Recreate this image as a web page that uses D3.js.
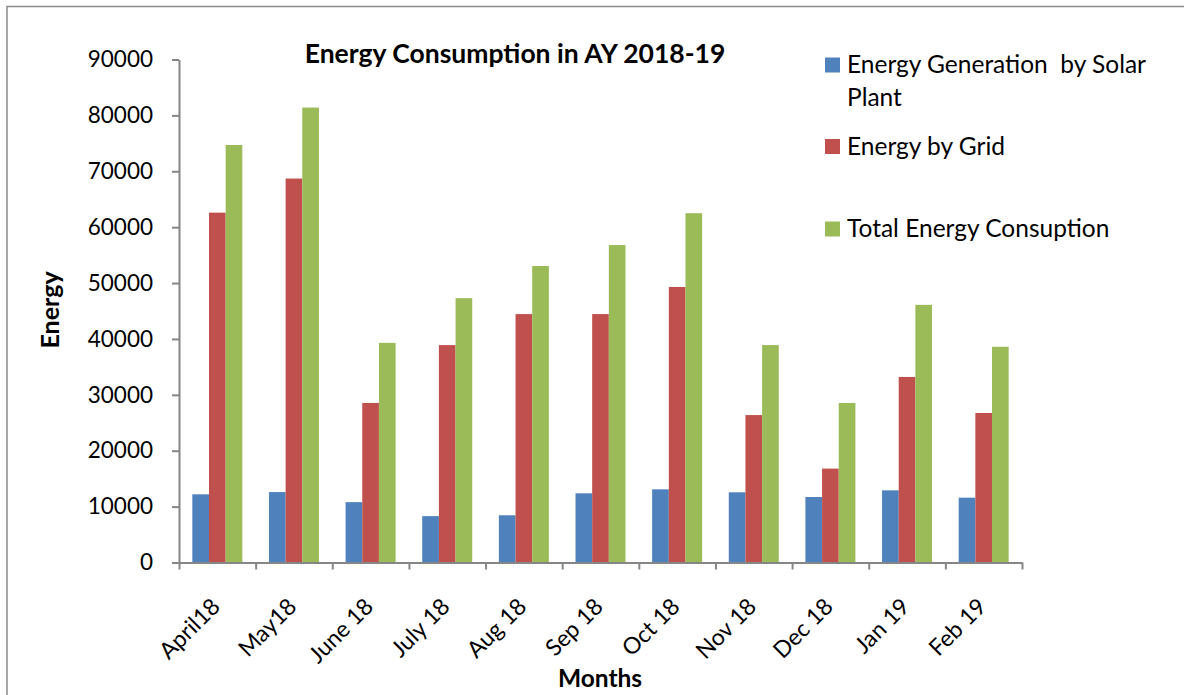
<!DOCTYPE html>
<html>
<head>
<meta charset="utf-8">
<script src="https://cdn.jsdelivr.net/npm/d3@7"></script>
<style>
  body { margin: 0; background: #fff; }
  text { font-family: Lato, "Open Sans", sans-serif; fill: #000; }
</style>
</head>
<body>
<div id="chart"></div>
<script>
// values
var months = ["April18", "May18", "June 18", "July 18", "Aug 18", "Sep 18", "Oct 18", "Nov 18", "Dec 18", "Jan 19", "Feb 19"];
var seriesNames = ["Energy Generation  by Solar Plant", "Energy by Grid", "Total Energy Consuption"];
var solar = [12200, 12600, 10800, 8300, 8450, 12380, 13090, 12560, 11720, 12910, 11600];
var grid = [62600, 68700, 28550, 38900, 44450, 44450, 49300, 26380, 16800, 33200, 26750];
var total = [74700, 81400, 39300, 47300, 53050, 56800, 62500, 38900, 28550, 46100, 38600];
var yTicks = [0, 10000, 20000, 30000, 40000, 50000, 60000, 70000, 80000, 90000];
var colors = ["#4F81BD", "#C0504D", "#9BBB59"];

var width = 1184,
    height = 695;

var svg = d3.select("#chart")
  .append("svg")
    .attr("width", width)
    .attr("height", height);

// chart frame (only top and left edges show in the picture)
svg.append("rect")
  .attr("x", 7)
  .attr("y", 6.5)
  .attr("width", 1300)
  .attr("height", 900)
  .attr("fill", "none")
  .attr("stroke", "#8c8c8c")
  .attr("stroke-width", 1.5);

var plotLeft = 179, plotRight = 1022, plotTop = 59.5, plotBottom = 562.5;

var x0 = d3.scaleBand()
  .domain(months)
  .range([plotLeft, plotRight]);

var x1 = d3.scaleBand()
  .domain(seriesNames)
  .range([0, x0.bandwidth()])
  .paddingInner(0)
  .paddingOuter(0.8);

var y = d3.scaleLinear()
  .domain([0, 90000])
  .range([plotBottom, plotTop]);

var table = months.map(function(m, i) {
  return { month: m, values: [solar[i], grid[i], total[i]] };
});

// bars
var groups = svg.selectAll("g.month")
  .data(table)
  .enter()
  .append("g")
    .attr("class", "month")
    .attr("transform", function(d) { return "translate(" + x0(d.month) + ",0)"; });

groups.selectAll("rect")
  .data(function(d) { return d.values.map(function(v, j) { return { key: seriesNames[j], value: v, idx: j }; }); })
  .enter()
  .append("rect")
    .attr("x", function(d) { return x1(d.key); })
    .attr("y", function(d) { return y(d.value); })
    .attr("width", x1.bandwidth())
    .attr("height", function(d) { return plotBottom - y(d.value); })
    .attr("fill", function(d) { return colors[d.idx]; });

// y axis
var yAxis = svg.append("g")
  .attr("transform", "translate(" + plotLeft + ",0)")
  .call(d3.axisLeft(y).tickValues(yTicks).tickFormat(d3.format("d")).tickSize(7).tickSizeOuter(0).tickPadding(19));

yAxis.selectAll("text")
  .style("font-size", "22.5px")
  .style("font-family", "Lato, sans-serif");

// x axis: tick marks on the category boundaries
var xEdges = d3.scaleLinear()
  .domain([0, months.length])
  .range([plotLeft, plotRight]);

var xAxis = svg.append("g")
  .attr("transform", "translate(0," + plotBottom + ")")
  .call(d3.axisBottom(xEdges).ticks(months.length).tickFormat("").tickSize(7).tickSizeOuter(0));

svg.selectAll(".domain, .tick line")
  .attr("stroke", "#868686")
  .attr("stroke-width", 2);

// month labels, rotated
svg.append("g")
  .selectAll("text")
  .data(months)
  .enter()
  .append("text")
    .attr("transform", function(d) { return "translate(" + (x0(d) + x0.bandwidth() / 2 + 4) + ",608) rotate(-45)"; })
    .attr("text-anchor", "end")
    .style("font-size", "23px")
    .text(function(d) { return d; });

// titles
svg.append("text")
  .attr("x", 515)
  .attr("y", 63)
  .attr("text-anchor", "middle")
  .style("font-size", "26.5px")
  .style("font-weight", "bold")
  .text("Energy Consumption in AY 2018-19");

svg.append("text")
  .attr("x", 600)
  .attr("y", 687)
  .attr("text-anchor", "middle")
  .style("font-size", "24.5px")
  .style("font-weight", "bold")
  .text("Months");

svg.append("text")
  .attr("transform", "translate(59,310) rotate(-90)")
  .attr("text-anchor", "middle")
  .style("font-size", "25px")
  .style("font-weight", "bold")
  .text("Energy");

// legend
var legendRows = [
  { lines: ["Energy Generation  by Solar", "Plant"], y: 57.5 },
  { lines: ["Energy by Grid"], y: 139 },
  { lines: ["Total Energy Consuption"], y: 221.5 }
];

var legend = svg.selectAll("g.legend")
  .data(legendRows)
  .enter()
  .append("g")
    .attr("class", "legend")
    .attr("transform", function(d) { return "translate(825," + d.y + ")"; });

legend.append("rect")
  .attr("width", 15)
  .attr("height", 15)
  .attr("fill", function(d, i) { return colors[i]; });

legend.each(function(d) {
  var g = d3.select(this);
  d.lines.forEach(function(line, k) {
    g.append("text")
      .attr("x", 22)
      .attr("y", 15.5 + k * 32.5)
      .style("font-size", "24.5px")
      .style("white-space", "pre")
      .text(line);
  });
});
</script>
</body>
</html>
